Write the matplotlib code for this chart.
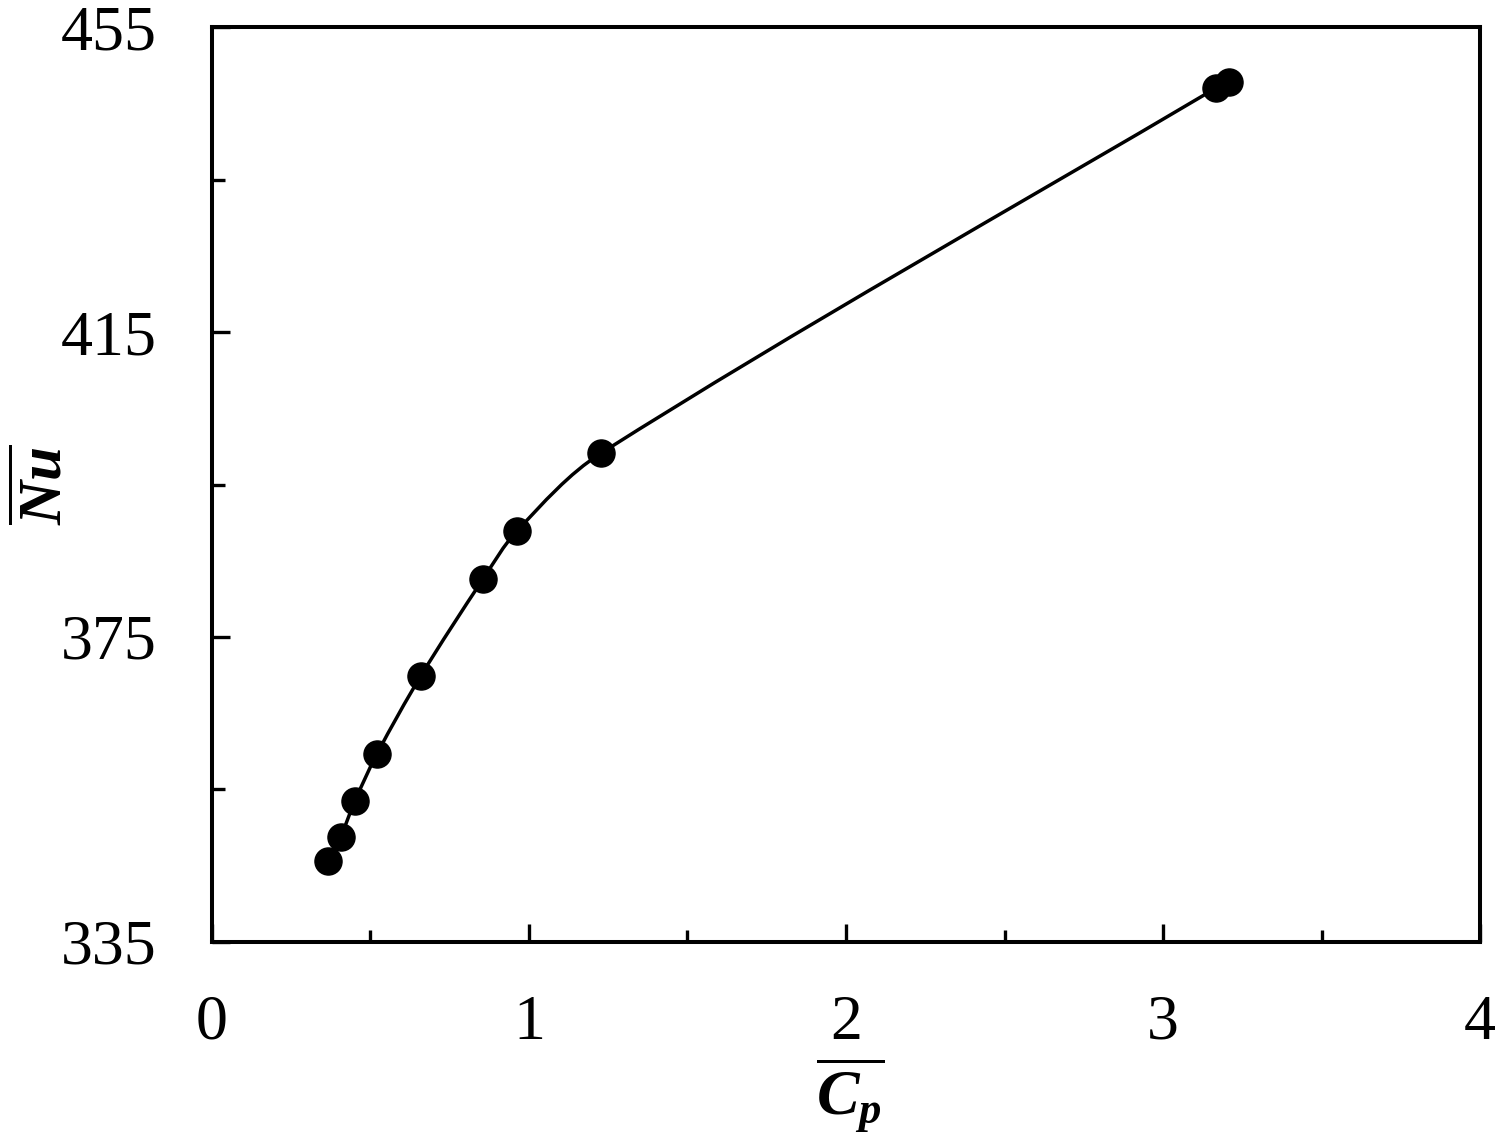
import numpy as np
import matplotlib.pyplot as plt
from matplotlib.path import Path
from matplotlib.patches import PathPatch

# データ (Cp平均, Nu平均)
cp_mean = [0.366, 0.406, 0.451, 0.521, 0.659, 0.855, 0.962, 1.227, 3.167, 3.208]
nu_mean = [345.6, 348.8, 353.5, 359.7, 369.9, 382.6, 388.9, 399.1, 447.0, 447.8]

x_major = [0, 1, 2, 3, 4]
y_major = [335, 375, 415, 455]


def smooth_path(x, y, sx, sy):
  # 平滑線 (接線方向 + 区間長で制御点, Excel風)
  p = np.column_stack([np.asarray(x) * sx, np.asarray(y) * sy])
  n = len(p)
  tang = []
  for i in range(n):
    a = p[max(i - 1, 0)]
    b = p[min(i + 1, n - 1)]
    d = b - a
    tang.append(d / np.hypot(*d))
  verts = [p[0]]
  codes = [Path.MOVETO]
  for i in range(n - 1):
    L = np.hypot(*(p[i + 1] - p[i])) / 3
    verts += [p[i] + tang[i] * L, p[i + 1] - tang[i + 1] * L, p[i + 1]]
    codes += [Path.CURVE4] * 3
  v = np.array(verts) / [sx, sy]
  return Path(v, codes)


plt.rcParams["font.family"] = "Liberation Serif"
plt.rcParams["mathtext.fontset"] = "custom"
plt.rcParams["mathtext.it"] = "Liberation Serif:italic:bold"
plt.rcParams["mathtext.rm"] = "Liberation Serif:bold"

fig = plt.figure(figsize=(15, 11.36), dpi=100)
ax = fig.add_axes([0.1413, 0.1708, 0.8454, 0.8054])

ax.add_patch(PathPatch(smooth_path(cp_mean, nu_mean, 317.0, 7.625), fill=False,
                       lw=2.5, edgecolor="black", zorder=2))
ax.plot(cp_mean, nu_mean, "o", color="black", markersize=19.5, zorder=3)

ax.set_xlim(0, 4)
ax.set_ylim(335, 455)
ax.set_xticks(x_major)
ax.set_xticks(np.arange(0, 4.01, 0.5), minor=True)
ax.set_yticks(y_major)
ax.set_yticks(np.arange(335, 456, 20), minor=True)

for s in ax.spines.values():
  s.set_linewidth(2.9)
ax.tick_params(which="both", direction="in", width=2.4, labelsize=46)
ax.tick_params(which="major", length=13)
ax.tick_params(which="minor", length=9)
ax.tick_params(axis="x", pad=38)
ax.tick_params(axis="y", pad=40)

ax.set_xlabel(r"$\overline{C_p}$", fontsize=46)
ax.set_ylabel(r"$\overline{Nu}$", fontsize=44)
ax.xaxis.set_label_coords(0.503, -0.125)
ax.yaxis.set_label_coords(-0.108, 0.5)

plt.savefig("out.png")
